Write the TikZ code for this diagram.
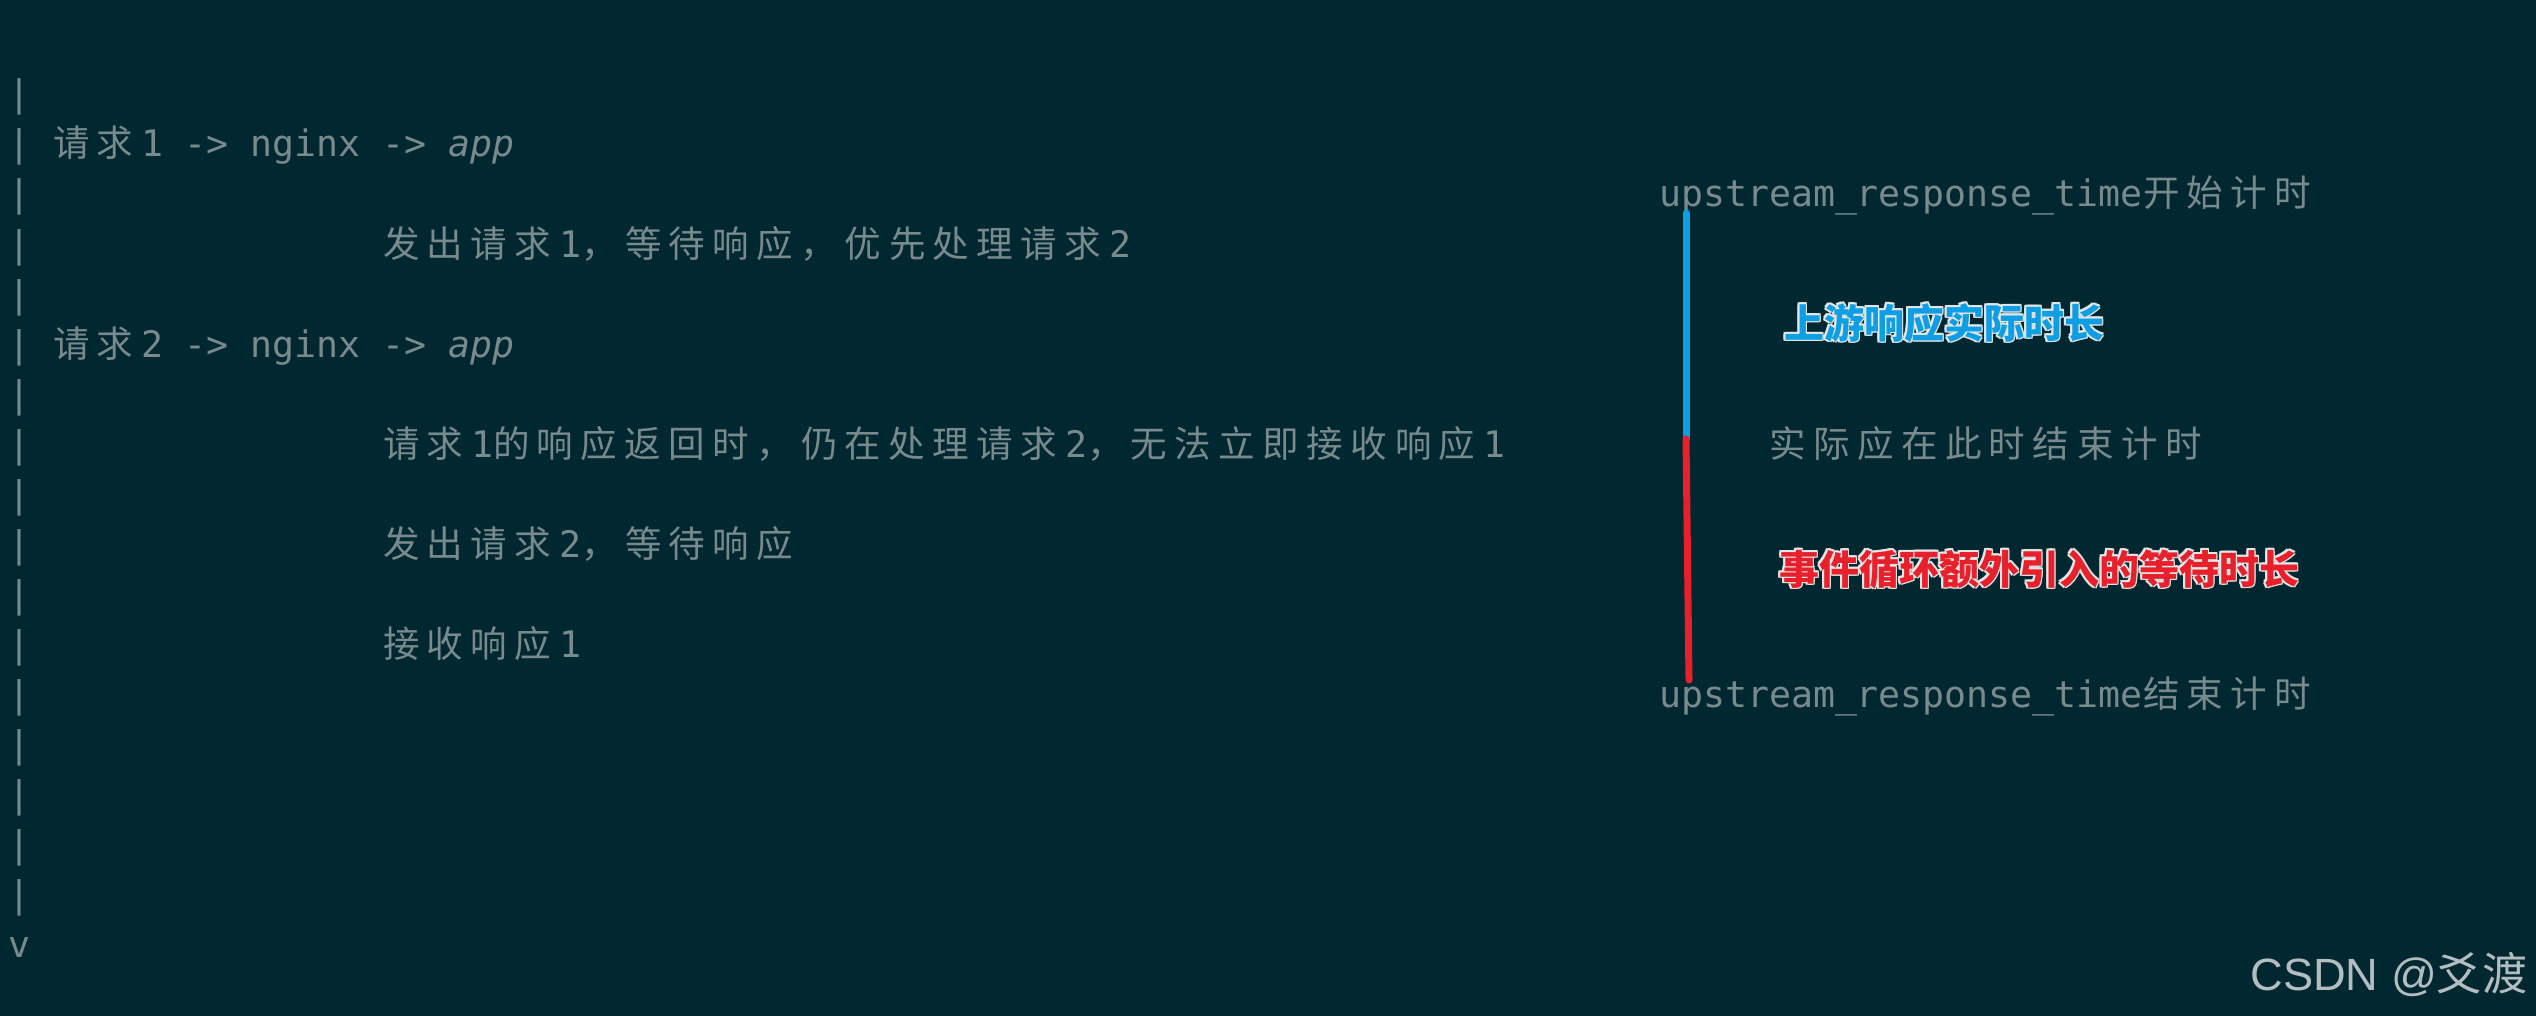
\documentclass[tikz,border=0pt]{standalone}
\usepackage{fontspec}
\newfontfamily\mono{DejaVu Sans Mono}
\newfontfamily\cjkf{Noto Sans CJK SC}
\newfontfamily\wmf{Liberation Sans}
\definecolor{bg}{HTML}{012731}
\definecolor{txt}{HTML}{788A8C}
\definecolor{lblue}{HTML}{0E9EE4}
\definecolor{lred}{HTML}{E8202B}
\definecolor{outl}{HTML}{E2E6E6}
\definecolor{wm}{HTML}{B3BDC0}
\newcommand\cjloop[1]{\ifx\relax#1\else\hbox to 22pt{\cjkf #1\hss}\expandafter\cjloop\fi}
\newcommand\cj[1]{\cjloop#1\relax}
\tikzset{
  term/.style={anchor=base west, inner sep=0pt, outer sep=0pt, text=txt,
    font=\mono\fontsize{18.27pt}{20pt}\selectfont},
  lab/.style={anchor=base west, inner sep=0pt, outer sep=0pt,
    font=\cjkf\bfseries\fontsize{20pt}{22pt}\selectfont},
  barline/.style={line width=3.5pt, line cap=round},
}
\begin{document}
\begin{tikzpicture}[x=0.5pt, y=-0.5pt]
\useasboundingbox (0,0) rectangle (2536,1016);
\fill[bg] (0,0) rectangle (2536,1016);
% left timeline
\foreach \r in {0,...,16} {
  \node[term] (p\r) at (9,107+50*\r) {|};
}
\node[term] (arrowv) at (9,107+50*17) {v};
% left texts
\node[term] (req1) at (9+22*2,107+50*1) {\cj{请求}1 -> nginx -> {\itshape app}};
\node[term] (send1) at (9+22*17,107+50*3) {\cj{发出请求}1\cj{，等待响应，优先处理请求}2};
\node[term] (req2) at (9+22*2,107+50*5) {\cj{请求}2 -> nginx -> {\itshape app}};
\node[term] (back1) at (9+22*17,107+50*7) {\cj{请求}1\cj{的响应返回时，仍在处理请求}2\cj{，无法立即接收响应}1};
\node[term] (send2) at (9+22*17,107+50*9) {\cj{发出请求}2\cj{，等待响应}};
\node[term] (recv1) at (9+22*17,107+50*11) {\cj{接收响应}1};
% right texts
\node[term] (ustart) at (9+22*75,107+50*2) {upstream\_response\_time\cj{开始计时}};
\node[term] (actual) at (9+22*80,107+50*7) {\cj{实际应在此时结束计时}};
\node[term] (uend) at (9+22*75,107+50*12) {upstream\_response\_time\cj{结束计时}};
% bars
\coordinate (bt) at (1686,213);
\coordinate (bm) at (1686,439);
\coordinate (rb) at (1689,680);
\draw[barline, lblue] (bt) -- (bm);
\draw[barline, lred] (bm) -- (rb);
% outlined labels
\foreach \dx/\dy in {1.6/0,-1.6/0,0/1.6,0/-1.6,1.2/1.2,-1.2/1.2,1.2/-1.2,-1.2/-1.2} {
  \node[lab, text=outl] at (1784+\dx,338+\dy) {上游响应实际时长};
  \node[lab, text=outl] at (1779+\dx,584+\dy) {事件循环额外引入的等待时长};
}
\node[lab, text=lblue] (bluelab) at (1784,338) {上游响应实际时长};
\node[lab, text=lred] (redlab) at (1779,584) {事件循环额外引入的等待时长};
% watermark
\node[anchor=base west, inner sep=0pt, text=wm, font=\wmf\fontsize{22.6pt}{24pt}\selectfont] (wmark) at (2250,990) {CSDN @{\cjkf 爻渡}};
\end{tikzpicture}
\end{document}
